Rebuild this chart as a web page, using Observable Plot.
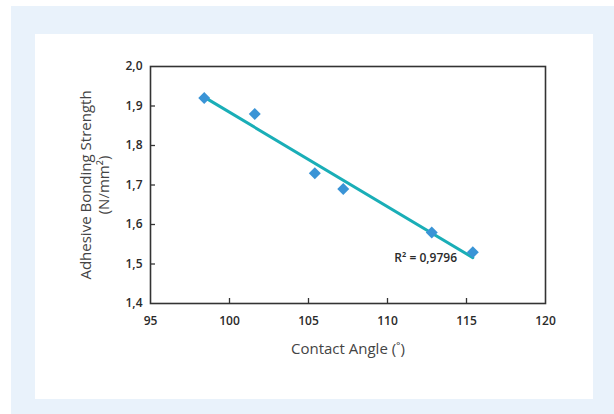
<!DOCTYPE html>
<html>
<head>
<meta charset="utf-8">
<script src="https://cdn.jsdelivr.net/npm/d3@7"></script>
<script src="https://cdn.jsdelivr.net/npm/@observablehq/plot@0.6"></script>
<style>
  html, body { margin: 0; padding: 0; background: #ffffff; width: 614px; height: 414px; overflow: hidden; }
  #outer { position: absolute; left: 11px; top: 6px; width: 603px; height: 408px; background: #e9f2fb; }
  #inner { position: absolute; left: 35px; top: 34px; width: 558px; height: 365px; background: #ffffff; }
</style>
</head>
<body>
<div id="outer"></div>
<div id="inner"></div>
<script>
// Data
const contactAngle = [98.4, 101.6, 105.4, 107.2, 112.8, 115.4];
const bondingStrength = [1.92, 1.88, 1.73, 1.69, 1.58, 1.53];
const xTicks = [95, 100, 105, 110, 115, 120];
const yTicks = [1.4, 1.5, 1.6, 1.7, 1.8, 1.9, 2.0];
const annotationText = ["R\u00b2 = 0,9796"];
const annotationX = [114.4];
const annotationY = [1.514];
const xTitle = "Contact Angle (\u02da)";
const yTitle = "Adhesive Bonding Strength\n(N/mm\u00b2)";

const data = contactAngle.map((x, i) => ({x, y: bondingStrength[i]}));
const annotations = annotationText.map((t, i) => ({t, x: annotationX[i], y: annotationY[i]}));

const W = 558, H = 365, mL = 115, mR = 48, mT = 32, mB = 96;
const fw = W - mL - mR, fh = H - mT - mB;

const chart = Plot.plot({
  width: W,
  height: H,
  marginLeft: mL,
  marginRight: mR,
  marginTop: mT,
  marginBottom: mB,
  style: {fontFamily: "'Open Sans', sans-serif", fontSize: "12px", background: "white", color: "#333"},
  x: {domain: [95, 120]},
  y: {domain: [1.4, 2.0]},
  marks: [
    Plot.axisX({ticks: xTicks, tickSize: 0, tickPadding: 13, fontSize: 12, fontWeight: 600, fill: "#2a2a2a", label: null}),
    Plot.axisY({ticks: yTicks, tickSize: 0, tickPadding: 8, fontSize: 12, fontWeight: 600, fill: "#2a2a2a", label: null,
      tickFormat: d => d.toFixed(1).replace(".", ",")}),
    Plot.ruleX(xTicks.slice(1, -1), {x: d => d, insetTop: fh - 5, stroke: "#333", strokeWidth: 1.3}),
    Plot.ruleY(yTicks.slice(1, -1), {y: d => d, insetRight: fw - 5, stroke: "#333", strokeWidth: 1.3}),
    Plot.frame({stroke: "#333", strokeWidth: 1.6}),
    Plot.linearRegressionY(data, {x: "x", y: "y", stroke: "#1aaeb7", strokeWidth: 3, ci: 0}),
    Plot.dot(data, {x: "x", y: "y", symbol: "diamond2", r: 5.4, fill: "#3a94d6", stroke: "none"}),
    Plot.text(annotations, {x: "x", y: "y", text: "t", textAnchor: "end", fontSize: 12, fontWeight: 600, fill: "#2a2a2a"}),
    Plot.text([xTitle], {frameAnchor: "bottom", textAnchor: "middle", dy: 50, fontSize: 15, fill: "#444", text: d => d}),
    Plot.text([yTitle], {frameAnchor: "left", textAnchor: "middle", rotate: -90, dx: -56, fontSize: 15, fill: "#444", lineHeight: 1.2, text: d => d})
  ]
});
chart.style.position = "absolute";
chart.style.left = "35px";
chart.style.top = "34px";
document.body.appendChild(chart);
</script>
</body>
</html>
